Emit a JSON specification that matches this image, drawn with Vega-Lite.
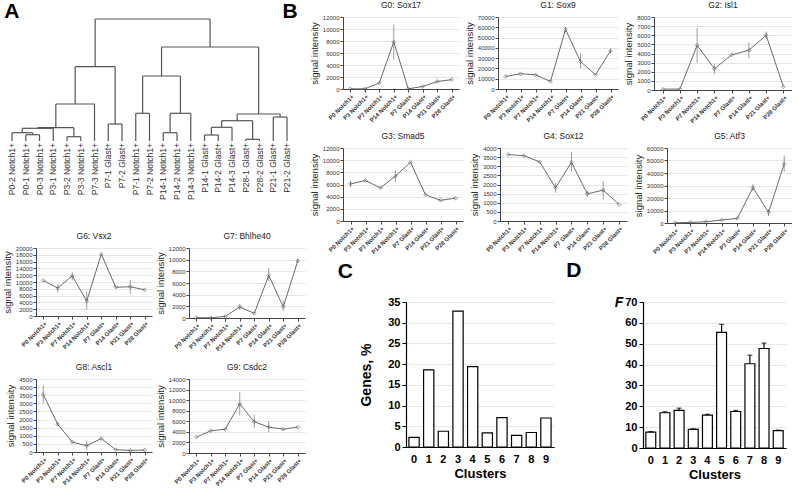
{
"$schema": "https://vega.github.io/schema/vega-lite/v6.json",
"padding": {"left": 2, "top": 0, "right": 0, "bottom": 0},
"background": "white",
"config": {
 "font": "Liberation Sans",
 "view": {"stroke": null},
 "title": {"fontSize": 8.5, "fontWeight": "normal", "color": "#222", "offset": 5},
 "axis": {"domainColor": "#444", "tickColor": "#444", "labelColor": "#333", "titleColor": "#222", "gridColor": "#e6e6e6", "titleFontWeight": "normal", "labelOverlap": false},
 "axisX": {"labelFontSize": 6, "labelFontWeight": "bold", "tickSize": 3, "grid": false, "labelPadding": 1},
 "axisY": {"labelFontSize": 6, "tickSize": 3, "titleFontSize": 9.5, "titlePadding": 3, "labelPadding": 1, "grid": true}
},
"datasets": {
 "lines": [
  {"g":"G0","s":"P0 Notch1+","v":30},{"g":"G0","s":"P3 Notch1+","v":30},{"g":"G0","s":"P7 Notch1+","v":1000},{"g":"G0","s":"P14 Notch1+","v":7850,"lo":4900,"hi":10700},{"g":"G0","s":"P7 Glast+","v":30},{"g":"G0","s":"P14 Glast+","v":420},{"g":"G0","s":"P21 Glast+","v":1250},{"g":"G0","s":"P28 Glast+","v":1560},
  {"g":"G1","s":"P0 Notch1+","v":12200},{"g":"G1","s":"P3 Notch1+","v":14800},{"g":"G1","s":"P7 Notch1+","v":13800},{"g":"G1","s":"P14 Notch1+","v":7400},{"g":"G1","s":"P7 Glast+","v":57900,"lo":55500,"hi":60500},{"g":"G1","s":"P14 Glast+","v":26700,"lo":20500,"hi":34500},{"g":"G1","s":"P21 Glast+","v":13800},{"g":"G1","s":"P28 Glast+","v":37000,"lo":35000,"hi":39500},
  {"g":"G2","s":"P0 Notch1+","v":100},{"g":"G2","s":"P3 Notch1+","v":100},{"g":"G2","s":"P7 Notch1+","v":4900,"lo":3000,"hi":6800},{"g":"G2","s":"P14 Notch1+","v":2330,"lo":1750,"hi":2900},{"g":"G2","s":"P7 Glast+","v":3850},{"g":"G2","s":"P14 Glast+","v":4350,"lo":3500,"hi":5200},{"g":"G2","s":"P21 Glast+","v":6000,"lo":5600,"hi":6400},{"g":"G2","s":"P28 Glast+","v":360},
  {"g":"G3","s":"P0 Notch1+","v":6100,"lo":5550,"hi":6650},{"g":"G3","s":"P3 Notch1+","v":6650},{"g":"G3","s":"P7 Notch1+","v":5450},{"g":"G3","s":"P14 Notch1+","v":7400,"lo":6450,"hi":8300},{"g":"G3","s":"P7 Glast+","v":9650},{"g":"G3","s":"P14 Glast+","v":4300},{"g":"G3","s":"P21 Glast+","v":3400},{"g":"G3","s":"P28 Glast+","v":3750},
  {"g":"G4","s":"P0 Notch1+","v":3640},{"g":"G4","s":"P3 Notch1+","v":3580},{"g":"G4","s":"P7 Notch1+","v":3240},{"g":"G4","s":"P14 Notch1+","v":1820,"lo":1550,"hi":2100},{"g":"G4","s":"P7 Glast+","v":3220,"lo":2700,"hi":3780},{"g":"G4","s":"P14 Glast+","v":1490,"lo":1300,"hi":1650},{"g":"G4","s":"P21 Glast+","v":1690,"lo":1180,"hi":2180},{"g":"G4","s":"P28 Glast+","v":910},
  {"g":"G5","s":"P0 Notch1+","v":200},{"g":"G5","s":"P3 Notch1+","v":500},{"g":"G5","s":"P7 Notch1+","v":1000},{"g":"G5","s":"P14 Notch1+","v":2400},{"g":"G5","s":"P7 Glast+","v":3700},{"g":"G5","s":"P14 Glast+","v":28300,"lo":25700,"hi":31000},{"g":"G5","s":"P21 Glast+","v":8500,"lo":5500,"hi":11000},{"g":"G5","s":"P28 Glast+","v":47400,"lo":41000,"hi":54000},
  {"g":"G6","s":"P0 Notch1+","v":10450},{"g":"G6","s":"P3 Notch1+","v":8200,"lo":7000,"hi":9300},{"g":"G6","s":"P7 Notch1+","v":11800,"lo":10600,"hi":12900},{"g":"G6","s":"P14 Notch1+","v":4360,"lo":1800,"hi":7100},{"g":"G6","s":"P7 Glast+","v":18200},{"g":"G6","s":"P14 Glast+","v":8450},{"g":"G6","s":"P21 Glast+","v":8600,"lo":6500,"hi":10600},{"g":"G6","s":"P28 Glast+","v":7700},
  {"g":"G7","s":"P0 Notch1+","v":50},{"g":"G7","s":"P3 Notch1+","v":50},{"g":"G7","s":"P7 Notch1+","v":270},{"g":"G7","s":"P14 Notch1+","v":1900,"lo":1400,"hi":2350},{"g":"G7","s":"P7 Glast+","v":800},{"g":"G7","s":"P14 Glast+","v":7300,"lo":6300,"hi":8600},{"g":"G7","s":"P21 Glast+","v":1900,"lo":1200,"hi":3000},{"g":"G7","s":"P28 Glast+","v":9800,"lo":9400,"hi":10200},
  {"g":"G8","s":"P0 Notch1+","v":3540,"lo":3000,"hi":4100},{"g":"G8","s":"P3 Notch1+","v":1710,"lo":1600,"hi":1820},{"g":"G8","s":"P7 Notch1+","v":610},{"g":"G8","s":"P14 Notch1+","v":390,"lo":140,"hi":700},{"g":"G8","s":"P7 Glast+","v":830},{"g":"G8","s":"P14 Glast+","v":140},{"g":"G8","s":"P21 Glast+","v":100},{"g":"G8","s":"P28 Glast+","v":120},
  {"g":"G9","s":"P0 Notch1+","v":3000},{"g":"G9","s":"P3 Notch1+","v":4200},{"g":"G9","s":"P7 Notch1+","v":4500},{"g":"G9","s":"P14 Notch1+","v":9300,"lo":7100,"hi":11500},{"g":"G9","s":"P7 Glast+","v":5900,"lo":4700,"hi":7250},{"g":"G9","s":"P14 Glast+","v":4900,"lo":3900,"hi":6000},{"g":"G9","s":"P21 Glast+","v":4500},{"g":"G9","s":"P28 Glast+","v":4900}
 ],
 "bars": [
  {"p":"C","k":0,"v":2.3},{"p":"C","k":1,"v":18.6},{"p":"C","k":2,"v":3.8},{"p":"C","k":3,"v":32.8},{"p":"C","k":4,"v":19.4},{"p":"C","k":5,"v":3.4},{"p":"C","k":6,"v":7.1},{"p":"C","k":7,"v":2.8},{"p":"C","k":8,"v":3.5},{"p":"C","k":9,"v":7.0},
  {"p":"D","k":0,"v":7.6,"hi":7.9},{"p":"D","k":1,"v":16.9,"hi":17.4},{"p":"D","k":2,"v":18.0,"hi":19.1},{"p":"D","k":3,"v":8.9,"hi":9.2},{"p":"D","k":4,"v":15.8,"hi":16.2},{"p":"D","k":5,"v":55.4,"hi":59.3},{"p":"D","k":6,"v":17.5,"hi":18.0},{"p":"D","k":7,"v":40.4,"hi":44.5},{"p":"D","k":8,"v":47.7,"hi":50.3},{"p":"D","k":9,"v":8.3,"hi":8.6}
 ],
 "dend": [
  {"x":1,"x2":2,"h":6.3,"h2":6.3},{"x":1,"x2":1,"h":0,"h2":6.3},{"x":2,"x2":2,"h":0,"h2":6.3},
  {"x":0,"x2":1.5,"h":8.3,"h2":8.3},{"x":0,"x2":0,"h":0,"h2":8.3},{"x":1.5,"x2":1.5,"h":6.3,"h2":8.3},
  {"x":0.75,"x2":3,"h":12.7,"h2":12.7},{"x":0.75,"x2":0.75,"h":8.3,"h2":12.7},{"x":3,"x2":3,"h":0,"h2":12.7},
  {"x":4,"x2":5,"h":4.3,"h2":4.3},{"x":4,"x2":4,"h":0,"h2":4.3},{"x":5,"x2":5,"h":0,"h2":4.3},
  {"x":1.875,"x2":4.5,"h":13.3,"h2":13.3},{"x":1.875,"x2":1.875,"h":12.7,"h2":13.3},{"x":4.5,"x2":4.5,"h":4.3,"h2":13.3},
  {"x":3.1875,"x2":6,"h":37,"h2":37},{"x":3.1875,"x2":3.1875,"h":13.3,"h2":37},{"x":6,"x2":6,"h":0,"h2":37},
  {"x":7,"x2":8,"h":17,"h2":17},{"x":7,"x2":7,"h":0,"h2":17},{"x":8,"x2":8,"h":0,"h2":17},
  {"x":4.594,"x2":7.5,"h":74.3,"h2":74.3},{"x":4.594,"x2":4.594,"h":37,"h2":74.3},{"x":7.5,"x2":7.5,"h":17,"h2":74.3},
  {"x":9,"x2":10,"h":27.7,"h2":27.7},{"x":9,"x2":9,"h":0,"h2":27.7},{"x":10,"x2":10,"h":0,"h2":27.7},
  {"x":11,"x2":12,"h":8.3,"h2":8.3},{"x":11,"x2":11,"h":0,"h2":8.3},{"x":12,"x2":12,"h":0,"h2":8.3},
  {"x":11.5,"x2":13,"h":27.7,"h2":27.7},{"x":11.5,"x2":11.5,"h":8.3,"h2":27.7},{"x":13,"x2":13,"h":0,"h2":27.7},
  {"x":9.5,"x2":12.25,"h":65,"h2":65},{"x":9.5,"x2":9.5,"h":27.7,"h2":65},{"x":12.25,"x2":12.25,"h":27.7,"h2":65},
  {"x":14,"x2":15,"h":6,"h2":6},{"x":14,"x2":14,"h":0,"h2":6},{"x":15,"x2":15,"h":0,"h2":6},
  {"x":14.5,"x2":16,"h":13.7,"h2":13.7},{"x":14.5,"x2":14.5,"h":6,"h2":13.7},{"x":16,"x2":16,"h":0,"h2":13.7},
  {"x":17,"x2":18,"h":1.7,"h2":1.7},{"x":17,"x2":17,"h":0,"h2":1.7},{"x":18,"x2":18,"h":0,"h2":1.7},
  {"x":15.25,"x2":17.5,"h":20.3,"h2":20.3},{"x":15.25,"x2":15.25,"h":13.7,"h2":20.3},{"x":17.5,"x2":17.5,"h":1.7,"h2":20.3},
  {"x":19,"x2":20,"h":24,"h2":24},{"x":19,"x2":19,"h":0,"h2":24},{"x":20,"x2":20,"h":0,"h2":24},
  {"x":16.375,"x2":19.5,"h":27,"h2":27},{"x":16.375,"x2":16.375,"h":20.3,"h2":27},{"x":19.5,"x2":19.5,"h":24,"h2":27},
  {"x":10.875,"x2":17.9375,"h":94,"h2":94},{"x":10.875,"x2":10.875,"h":65,"h2":94},{"x":17.9375,"x2":17.9375,"h":27,"h2":94},
  {"x":6.047,"x2":14.406,"h":122,"h2":122},{"x":6.047,"x2":6.047,"h":74.3,"h2":122},{"x":14.406,"x2":14.406,"h":94,"h2":122}
 ],
 "leaves": [
  {"i":0,"label":"P0-2 Notch1+"},{"i":1,"label":"P0-1 Notch1+"},{"i":2,"label":"P0-3 Notch1+"},{"i":3,"label":"P3-1 Notch1+"},{"i":4,"label":"P3-2 Notch1+"},{"i":5,"label":"P3-3 Notch1+"},{"i":6,"label":"P7-3 Notch1+"},{"i":7,"label":"P7-1 Glast+"},{"i":8,"label":"P7-2 Glast+"},{"i":9,"label":"P7-1 Notch1+"},{"i":10,"label":"P7-2 Notch1+"},{"i":11,"label":"P14-1 Notch1+"},{"i":12,"label":"P14-2 Notch1+"},{"i":13,"label":"P14-3 Notch1+"},{"i":14,"label":"P14-1 Glast+"},{"i":15,"label":"P14-2 Glast+"},{"i":16,"label":"P14-3 Glast+"},{"i":17,"label":"P28-1 Glast+"},{"i":18,"label":"P28-2 Glast+"},{"i":19,"label":"P21-1 Glast+"},{"i":20,"label":"P21-2 Glast+"}
 ]
},
"spacing": 4,
"hconcat": [
 {"spacing": 31, "vconcat": [
  {"width": 246, "height": 124,
   "resolve": {"scale": {"y": "independent"}, "axis": {"y": "independent"}},
   "layer": [
    {"data": {"name": "dend"}, "mark": {"type": "rule", "color": "#555", "strokeWidth": 1.2},
     "encoding": {
      "x": {"field": "x", "type": "quantitative", "scale": {"domain": [1.745, 19.636], "nice": false, "zero": false}, "axis": null},
      "x2": {"field": "x2"},
      "y": {"field": "h", "type": "quantitative", "scale": {"domain": [0, 124], "nice": false},
            "axis": {"orient": "left", "title": "A", "titleAngle": 0, "titleAnchor": "end", "titleAlign": "right", "titleBaseline": "alphabetic", "titleFontSize": 21, "titleFontWeight": "bold", "titleColor": "black", "titlePadding": 17, "labels": false, "ticks": false, "domain": false, "grid": false}},
      "y2": {"field": "h2"}}},
    {"data": {"name": "leaves"}, "mark": {"type": "text", "angle": 270, "align": "right", "baseline": "middle", "fontSize": 8.5, "dx": -2, "color": "#333"},
     "encoding": {"x": {"field": "i", "type": "quantitative", "axis": null},
      "y": {"datum": 0, "type": "quantitative", "scale": {"domain": [0, 124], "nice": false},
            "axis": {"orient": "right", "title": "B", "titleAngle": 0, "titleAnchor": "end", "titleAlign": "left", "titleBaseline": "alphabetic", "titleFontSize": 21, "titleFontWeight": "bold", "titleColor": "black", "titlePadding": 0, "labels": false, "ticks": false, "domain": false, "grid": false}},
      "text": {"field": "label"}}}
   ]},
  {"spacing": 10, "vconcat": [
   {"spacing": 3, "hconcat": [
    {"title": "G6: Vsx2", "width": 116, "height": 68, "data": {"name": "lines"}, "transform": [{"filter": "datum.g == 'G6'"}],
     "encoding": {"x": {"field": "s", "type": "ordinal", "sort": ["P0 Notch1+","P3 Notch1+","P7 Notch1+","P14 Notch1+","P7 Glast+","P14 Glast+","P21 Glast+","P28 Glast+"], "scale": {"type": "point", "padding": 0.5}, "axis": {"title": null, "labelAngle": -45}},
      "y": {"field": "v", "type": "quantitative", "scale": {"domain": [0, 20000]}, "axis": {"title": "signal intensity", "values": [0,2000,4000,6000,8000,10000,12000,14000,16000,18000,20000], "format": "d"}}},
     "layer": [
      {"transform": [{"filter": "isValid(datum.lo)"}], "mark": {"type": "rule", "color": "#9a9a9a"}, "encoding": {"y": {"field": "lo", "type": "quantitative", "scale": {"domain": [0, 20000]}, "axis": {"title": "signal intensity", "values": [0,2000,4000,6000,8000,10000,12000,14000,16000,18000,20000], "format": "d"}}, "y2": {"field": "hi"}}},
      {"mark": {"type": "line", "color": "#6a6a6a", "strokeWidth": 1}},
      {"mark": {"type": "point", "shape": "diamond", "filled": false, "size": 14, "color": "#555", "strokeWidth": 0.8}}
     ]},
    {"title": "G7: Bhlhe40", "width": 116, "height": 70, "data": {"name": "lines"}, "transform": [{"filter": "datum.g == 'G7'"}],
     "encoding": {"x": {"field": "s", "type": "ordinal", "sort": ["P0 Notch1+","P3 Notch1+","P7 Notch1+","P14 Notch1+","P7 Glast+","P14 Glast+","P21 Glast+","P28 Glast+"], "scale": {"type": "point", "padding": 0.5}, "axis": {"title": null, "labelAngle": -45}},
      "y": {"field": "v", "type": "quantitative", "scale": {"domain": [0, 12000]}, "axis": {"title": "signal intensity", "values": [0,2000,4000,6000,8000,10000,12000], "format": "d"}}},
     "layer": [
      {"transform": [{"filter": "isValid(datum.lo)"}], "mark": {"type": "rule", "color": "#9a9a9a"}, "encoding": {"y": {"field": "lo", "type": "quantitative", "scale": {"domain": [0, 12000]}, "axis": {"title": "signal intensity", "values": [0,2000,4000,6000,8000,10000,12000], "format": "d"}}, "y2": {"field": "hi"}}},
      {"mark": {"type": "line", "color": "#6a6a6a", "strokeWidth": 1}},
      {"mark": {"type": "point", "shape": "diamond", "filled": false, "size": 14, "color": "#555", "strokeWidth": 0.8}}
     ]}
   ]},
   {"spacing": 3, "hconcat": [
    {"title": "G8: Ascl1", "width": 116, "height": 73, "data": {"name": "lines"}, "transform": [{"filter": "datum.g == 'G8'"}],
     "encoding": {"x": {"field": "s", "type": "ordinal", "sort": ["P0 Notch1+","P3 Notch1+","P7 Notch1+","P14 Notch1+","P7 Glast+","P14 Glast+","P21 Glast+","P28 Glast+"], "scale": {"type": "point", "padding": 0.5}, "axis": {"title": null, "labelAngle": -45}},
      "y": {"field": "v", "type": "quantitative", "scale": {"domain": [0, 4500]}, "axis": {"title": "signal intensity", "values": [0,500,1000,1500,2000,2500,3000,3500,4000,4500], "format": "d"}}},
     "layer": [
      {"transform": [{"filter": "isValid(datum.lo)"}], "mark": {"type": "rule", "color": "#9a9a9a"}, "encoding": {"y": {"field": "lo", "type": "quantitative", "scale": {"domain": [0, 4500]}, "axis": {"title": "signal intensity", "values": [0,500,1000,1500,2000,2500,3000,3500,4000,4500], "format": "d"}}, "y2": {"field": "hi"}}},
      {"mark": {"type": "line", "color": "#6a6a6a", "strokeWidth": 1}},
      {"mark": {"type": "point", "shape": "diamond", "filled": false, "size": 14, "color": "#555", "strokeWidth": 0.8}}
     ]},
    {"title": "G9: Csdc2", "width": 116, "height": 74, "data": {"name": "lines"}, "transform": [{"filter": "datum.g == 'G9'"}],
     "encoding": {"x": {"field": "s", "type": "ordinal", "sort": ["P0 Notch1+","P3 Notch1+","P7 Notch1+","P14 Notch1+","P7 Glast+","P14 Glast+","P21 Glast+","P28 Glast+"], "scale": {"type": "point", "padding": 0.5}, "axis": {"title": null, "labelAngle": -45}},
      "y": {"field": "v", "type": "quantitative", "scale": {"domain": [0, 14000]}, "axis": {"title": "signal intensity", "values": [0,2000,4000,6000,8000,10000,12000,14000], "format": "d"}}},
     "layer": [
      {"transform": [{"filter": "isValid(datum.lo)"}], "mark": {"type": "rule", "color": "#9a9a9a"}, "encoding": {"y": {"field": "lo", "type": "quantitative", "scale": {"domain": [0, 14000]}, "axis": {"title": "signal intensity", "values": [0,2000,4000,6000,8000,10000,12000,14000], "format": "d"}}, "y2": {"field": "hi"}}},
      {"mark": {"type": "line", "color": "#6a6a6a", "strokeWidth": 1}},
      {"mark": {"type": "point", "shape": "diamond", "filled": false, "size": 14, "color": "#555", "strokeWidth": 0.8}}
     ]}
   ]}
  ]}
 ]},
 {"spacing": 3, "vconcat": [
  {"spacing": 7, "vconcat": [
   {"spacing": 5, "hconcat": [
    {"title": "G0: Sox17", "width": 116, "height": 72, "data": {"name": "lines"}, "transform": [{"filter": "datum.g == 'G0'"}],
     "encoding": {"x": {"field": "s", "type": "ordinal", "sort": ["P0 Notch1+","P3 Notch1+","P7 Notch1+","P14 Notch1+","P7 Glast+","P14 Glast+","P21 Glast+","P28 Glast+"], "scale": {"type": "point", "padding": 0.5}, "axis": {"title": null, "labelAngle": -45}},
      "y": {"field": "v", "type": "quantitative", "scale": {"domain": [0, 12000]}, "axis": {"title": "signal intensity", "values": [0,2000,4000,6000,8000,10000,12000], "format": "d"}}},
     "layer": [
      {"transform": [{"filter": "isValid(datum.lo)"}], "mark": {"type": "rule", "color": "#9a9a9a"}, "encoding": {"y": {"field": "lo", "type": "quantitative", "scale": {"domain": [0, 12000]}, "axis": {"title": "signal intensity", "values": [0,2000,4000,6000,8000,10000,12000], "format": "d"}}, "y2": {"field": "hi"}}},
      {"mark": {"type": "line", "color": "#6a6a6a", "strokeWidth": 1}},
      {"mark": {"type": "point", "shape": "diamond", "filled": false, "size": 14, "color": "#555", "strokeWidth": 0.8}}
     ]},
    {"title": "G1: Sox9", "width": 120, "height": 72, "data": {"name": "lines"}, "transform": [{"filter": "datum.g == 'G1'"}],
     "encoding": {"x": {"field": "s", "type": "ordinal", "sort": ["P0 Notch1+","P3 Notch1+","P7 Notch1+","P14 Notch1+","P7 Glast+","P14 Glast+","P21 Glast+","P28 Glast+"], "scale": {"type": "point", "padding": 0.5}, "axis": {"title": null, "labelAngle": -45}},
      "y": {"field": "v", "type": "quantitative", "scale": {"domain": [0, 70000]}, "axis": {"title": "signal intensity", "values": [0,10000,20000,30000,40000,50000,60000,70000], "format": "d"}}},
     "layer": [
      {"transform": [{"filter": "isValid(datum.lo)"}], "mark": {"type": "rule", "color": "#9a9a9a"}, "encoding": {"y": {"field": "lo", "type": "quantitative", "scale": {"domain": [0, 70000]}, "axis": {"title": "signal intensity", "values": [0,10000,20000,30000,40000,50000,60000,70000], "format": "d"}}, "y2": {"field": "hi"}}},
      {"mark": {"type": "line", "color": "#6a6a6a", "strokeWidth": 1}},
      {"mark": {"type": "point", "shape": "diamond", "filled": false, "size": 14, "color": "#555", "strokeWidth": 0.8}}
     ]},
    {"title": "G2: Isl1", "width": 138, "height": 73, "data": {"name": "lines"}, "transform": [{"filter": "datum.g == 'G2'"}],
     "encoding": {"x": {"field": "s", "type": "ordinal", "sort": ["P0 Notch1+","P3 Notch1+","P7 Notch1+","P14 Notch1+","P7 Glast+","P14 Glast+","P21 Glast+","P28 Glast+"], "scale": {"type": "point", "padding": 0.5}, "axis": {"title": null, "labelAngle": -45}},
      "y": {"field": "v", "type": "quantitative", "scale": {"domain": [0, 8000]}, "axis": {"title": "signal intensity", "values": [0,1000,2000,3000,4000,5000,6000,7000,8000], "format": "d"}}},
     "layer": [
      {"transform": [{"filter": "isValid(datum.lo)"}], "mark": {"type": "rule", "color": "#9a9a9a"}, "encoding": {"y": {"field": "lo", "type": "quantitative", "scale": {"domain": [0, 8000]}, "axis": {"title": "signal intensity", "values": [0,1000,2000,3000,4000,5000,6000,7000,8000], "format": "d"}}, "y2": {"field": "hi"}}},
      {"mark": {"type": "line", "color": "#6a6a6a", "strokeWidth": 1}},
      {"mark": {"type": "point", "shape": "diamond", "filled": false, "size": 14, "color": "#555", "strokeWidth": 0.8}}
     ]}
   ]},
   {"spacing": 6, "hconcat": [
    {"title": "G3: Smad5", "width": 120, "height": 73, "data": {"name": "lines"}, "transform": [{"filter": "datum.g == 'G3'"}],
     "encoding": {"x": {"field": "s", "type": "ordinal", "sort": ["P0 Notch1+","P3 Notch1+","P7 Notch1+","P14 Notch1+","P7 Glast+","P14 Glast+","P21 Glast+","P28 Glast+"], "scale": {"type": "point", "padding": 0.5}, "axis": {"title": null, "labelAngle": -45}},
      "y": {"field": "v", "type": "quantitative", "scale": {"domain": [0, 12000]}, "axis": {"title": "signal intensity", "values": [0,2000,4000,6000,8000,10000,12000], "format": "d"}}},
     "layer": [
      {"transform": [{"filter": "isValid(datum.lo)"}], "mark": {"type": "rule", "color": "#9a9a9a"}, "encoding": {"y": {"field": "lo", "type": "quantitative", "scale": {"domain": [0, 12000]}, "axis": {"title": "signal intensity", "values": [0,2000,4000,6000,8000,10000,12000], "format": "d"}}, "y2": {"field": "hi"}}},
      {"mark": {"type": "line", "color": "#6a6a6a", "strokeWidth": 1}},
      {"mark": {"type": "point", "shape": "diamond", "filled": false, "size": 14, "color": "#555", "strokeWidth": 0.8}}
     ]},
    {"title": "G4: Sox12", "width": 127, "height": 73, "data": {"name": "lines"}, "transform": [{"filter": "datum.g == 'G4'"}],
     "encoding": {"x": {"field": "s", "type": "ordinal", "sort": ["P0 Notch1+","P3 Notch1+","P7 Notch1+","P14 Notch1+","P7 Glast+","P14 Glast+","P21 Glast+","P28 Glast+"], "scale": {"type": "point", "padding": 0.5}, "axis": {"title": null, "labelAngle": -45}},
      "y": {"field": "v", "type": "quantitative", "scale": {"domain": [0, 4000]}, "axis": {"title": "signal intensity", "values": [0,500,1000,1500,2000,2500,3000,3500,4000], "format": "d"}}},
     "layer": [
      {"transform": [{"filter": "isValid(datum.lo)"}], "mark": {"type": "rule", "color": "#9a9a9a"}, "encoding": {"y": {"field": "lo", "type": "quantitative", "scale": {"domain": [0, 4000]}, "axis": {"title": "signal intensity", "values": [0,500,1000,1500,2000,2500,3000,3500,4000], "format": "d"}}, "y2": {"field": "hi"}}},
      {"mark": {"type": "line", "color": "#6a6a6a", "strokeWidth": 1}},
      {"mark": {"type": "point", "shape": "diamond", "filled": false, "size": 14, "color": "#555", "strokeWidth": 0.8}}
     ]},
    {"title": "G5: Atf3", "width": 125, "height": 75, "data": {"name": "lines"}, "transform": [{"filter": "datum.g == 'G5'"}],
     "encoding": {"x": {"field": "s", "type": "ordinal", "sort": ["P0 Notch1+","P3 Notch1+","P7 Notch1+","P14 Notch1+","P7 Glast+","P14 Glast+","P21 Glast+","P28 Glast+"], "scale": {"type": "point", "padding": 0.5}, "axis": {"title": null, "labelAngle": -45}},
      "y": {"field": "v", "type": "quantitative", "scale": {"domain": [0, 60000]}, "axis": {"title": "signal intensity", "values": [0,10000,20000,30000,40000,50000,60000], "format": "d"}}},
     "layer": [
      {"transform": [{"filter": "isValid(datum.lo)"}], "mark": {"type": "rule", "color": "#9a9a9a"}, "encoding": {"y": {"field": "lo", "type": "quantitative", "scale": {"domain": [0, 60000]}, "axis": {"title": "signal intensity", "values": [0,10000,20000,30000,40000,50000,60000], "format": "d"}}, "y2": {"field": "hi"}}},
      {"mark": {"type": "line", "color": "#6a6a6a", "strokeWidth": 1}},
      {"mark": {"type": "point", "shape": "diamond", "filled": false, "size": 14, "color": "#555", "strokeWidth": 0.8}}
     ]}
   ]}
  ]},
  {"spacing": -10, "hconcat": [
   {"width": 1, "height": 145, "data": {"values": [{"k": 0}]}, "mark": {"type": "point", "opacity": 0}, "encoding": {}},
   {"spacing": 12, "hconcat": [
    {"title": {"text": "C", "fontSize": 21, "fontWeight": "bold", "anchor": "start", "frame": "bounds", "dx": -22, "offset": 14, "color": "black"},
     "width": 148, "height": 145, "data": {"name": "bars"}, "transform": [{"filter": "datum.p == 'C'"}],
     "mark": {"type": "bar", "fill": "white", "stroke": "black", "strokeWidth": 1.2},
     "encoding": {
      "x": {"field": "k", "type": "ordinal", "scale": {"paddingInner": 0.3, "paddingOuter": 0.2}, "axis": {"title": "Clusters", "labelAngle": 0, "labelFontSize": 11, "labelFontWeight": "bold", "labelColor": "black", "titleFontSize": 13, "titleFontWeight": "bold", "titleColor": "black", "ticks": false, "labelPadding": 6, "titlePadding": 3, "domainColor": "black", "domainWidth": 1.2}},
      "y": {"field": "v", "type": "quantitative", "scale": {"domain": [0, 35]}, "axis": {"title": "Genes, %", "values": [0,5,10,15,20,25,30,35], "labelFontSize": 11, "labelFontWeight": "bold", "labelColor": "black", "titleFontSize": 14, "titleFontWeight": "bold", "titleColor": "black", "tickSize": 4, "labelPadding": 2, "titlePadding": 14, "domainColor": "black", "tickColor": "black", "domainWidth": 1.2}}
     }},
    {"title": {"text": "D", "fontSize": 21, "fontWeight": "bold", "anchor": "start", "frame": "bounds", "dx": -48, "offset": 14, "color": "black"},
     "width": 143, "height": 146, "data": {"name": "bars"}, "transform": [{"filter": "datum.p == 'D'"}],
     "encoding": {"x": {"field": "k", "type": "ordinal", "scale": {"paddingInner": 0.3, "paddingOuter": 0.2}, "axis": {"title": "Clusters", "labelAngle": 0, "labelFontSize": 11, "labelFontWeight": "bold", "labelColor": "black", "titleFontSize": 13, "titleFontWeight": "bold", "titleColor": "black", "ticks": false, "labelPadding": 6, "titlePadding": 3, "domainColor": "black", "domainWidth": 1.2}},
      "y": {"field": "v", "type": "quantitative", "scale": {"domain": [0, 70]}, "axis": {"title": "F", "titleAngle": 0, "titleAnchor": "end", "titleAlign": "right", "titleBaseline": "middle", "titleFontStyle": "italic", "values": [0,10,20,30,40,50,60,70], "labelFontSize": 11, "labelFontWeight": "bold", "labelColor": "black", "titleFontSize": 14, "titleFontWeight": "bold", "titleColor": "black", "tickSize": 4, "labelPadding": 2, "titlePadding": 2, "domainColor": "black", "tickColor": "black", "domainWidth": 1.2}}},
     "layer": [
      {"mark": {"type": "rule", "color": "black", "strokeWidth": 1.2}, "encoding": {"y2": {"field": "hi"}}},
      {"mark": {"type": "bar", "fill": "white", "stroke": "black", "strokeWidth": 1.2}},
      {"mark": {"type": "tick", "color": "black", "size": 5, "thickness": 1.2}, "encoding": {"y": {"field": "hi", "type": "quantitative", "scale": {"domain": [0, 70]}, "axis": {"title": "F", "titleAngle": 0, "titleAnchor": "end", "titleAlign": "right", "titleBaseline": "middle", "titleFontStyle": "italic", "values": [0,10,20,30,40,50,60,70], "labelFontSize": 11, "labelFontWeight": "bold", "labelColor": "black", "titleFontSize": 14, "titleFontWeight": "bold", "titleColor": "black", "tickSize": 4, "labelPadding": 2, "titlePadding": 2, "domainColor": "black", "tickColor": "black", "domainWidth": 1.2}}}}
     ]}
   ]}
  ]}
 ]}
]
}
